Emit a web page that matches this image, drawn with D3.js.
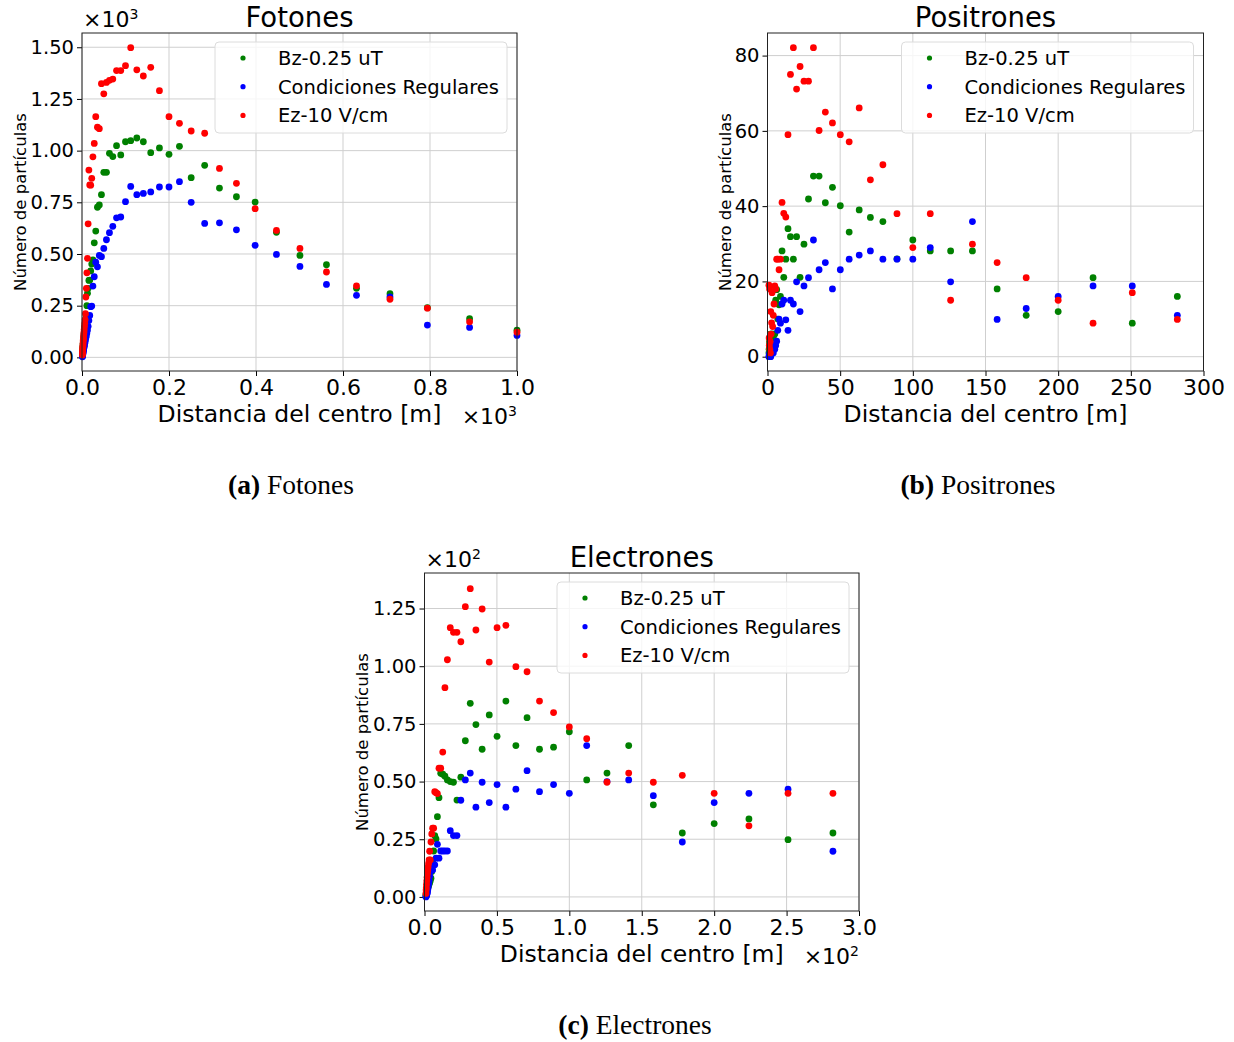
<!DOCTYPE html>
<html><head><meta charset="utf-8">
<script src="https://cdn.jsdelivr.net/npm/d3@7"></script>
<style>body{margin:0;background:#fff} svg{display:block}</style>
</head><body>
<svg id="chart" width="1234" height="1042"></svg>
<script>
// distances from the centre [m]
const distancias = [1.0, 1.12, 1.26, 1.41, 1.58, 1.78, 2.0, 2.24, 2.51, 2.82, 3.16, 3.55, 3.98, 4.47, 5.01, 5.62, 6.31, 7.08, 7.94, 8.91, 10.0, 11.2, 12.6, 14.1, 15.8, 17.8, 20.0, 22.4, 25.1, 28.2, 31.6, 35.5, 39.8, 44.7, 50.1, 56.2, 63.1, 70.8, 79.4, 89.1, 100, 112, 126, 141, 158, 178, 200, 224, 251, 282, 316, 355, 398, 447, 501, 562, 631, 708, 794, 891, 1000];

const seriesNames = ["Bz-0.25 uT", "Condiciones Regulares", "Ez-10 V/cm"];

// Fotones
const fotonesBz = [10, 15, 20, 26, 32, 38, 45, 52, 60, 68, 76, 85, 95, 105, 115, 126, 138, 150, 165, 180, 200, 250, 310, 334, 372, 374, 418, 451, 471, 554, 611, 726, 737, 787, 895, 895, 987, 971, 1024, 979, 1043, 1048, 1061, 1043, 990, 1013, 982, 1021, 869, 929, 819, 777, 751, 605, 493, 448, 334, 308, 240, 187, 131];
const fotonesReg = [3, 5, 8, 10, 13, 16, 19, 22, 26, 30, 34, 38, 43, 48, 54, 60, 68, 76, 85, 95, 105, 118, 132, 150, 178, 203, 245, 248, 345, 390, 460, 438, 493, 487, 527, 569, 603, 634, 675, 679, 753, 827, 787, 793, 800, 824, 824, 850, 750, 648, 651, 617, 542, 498, 440, 353, 300, 292, 156, 145, 106];
const fotonesEz = [12, 18, 25, 30, 38, 45, 52, 60, 70, 80, 88, 98, 110, 122, 135, 150, 165, 182, 211, 292, 334, 409, 479, 646, 906, 834, 833, 866, 970, 1035, 1164, 1113, 1106, 1324, 1275, 1330, 1340, 1346, 1387, 1387, 1411, 1498, 1391, 1361, 1403, 1290, 1164, 1132, 1095, 1084, 914, 842, 719, 614, 527, 413, 346, 281, 238, 172, 122];

// Positrones
const positronesBz = [1, 2, 3, 4, 5, 4, 6, 5, 6, 5, 6, 6, 5, 6, 6, 15, 17.8, 10, 13.8, 16, 28.1, 21.1, 25.9, 34, 31.9, 25.9, 31.9, 21.1, 29.9, 41.9, 48, 48, 40.9, 45, 40.1, 33.1, 39, 37, 35.9, 26, 31, 28.1, 28.1, 28.1, 18, 11, 12, 21, 8.9, 16];
const positronesReg = [0, 0, 0.5, 0, 1, 0.5, 1, 0, 2, 1, 1.5, 2, 1, 3, 2, 3, 4.1, 7, 10, 8.9, 14, 15, 9.8, 7, 15, 14, 19.9, 12, 18.8, 21, 31, 23.1, 25, 18, 23.1, 25.9, 27, 28.1, 25.9, 25.9, 25.9, 29, 19.9, 35.9, 9.9, 12.8, 16, 18.8, 18.8, 11];
const positronesEz = [19, 5, 3, 18, 2, 4, 1, 12, 6, 9, 17, 8, 11, 14, 18.8, 18, 25.9, 25.9, 23.1, 25.9, 41, 38.1, 37.1, 59, 75, 82.1, 71.1, 77.1, 73.2, 73.2, 82.1, 60.1, 65, 62.1, 59, 57.1, 66.1, 47, 51, 38, 29, 38, 15, 29.9, 25, 21, 15, 8.9, 17, 9.9];

// Electrones
const electronesBz = [0.5, 1, 1.5, 2.2, 2.5, 3, 3.6, 4, 4.4, 5, 5.5, 6.2, 7, 8.1, 11, 14.9, 19.9, 26.6, 25.1, 34.8, 43, 53.6, 53.2, 52.3, 50.7, 50, 49.7, 42, 51.9, 67.7, 83.9, 74.7, 64, 78.9, 69.6, 84.9, 65.6, 77.7, 64, 64.9, 71.6, 50.7, 53.7, 65.6, 39.9, 27.7, 31.8, 33.8, 24.8, 27.7];
const electronesReg = [0, 0.3, 0.5, 0.8, 1, 1.5, 2, 3, 4, 5.5, 7, 9, 11, 11.7, 12, 11.7, 13.9, 13.9, 16.8, 22.8, 16.8, 19.9, 19.9, 19.9, 19.9, 28.7, 26.6, 26.6, 41.9, 50.7, 53.7, 38.9, 49.7, 40.9, 48.7, 38.9, 46.7, 54.7, 45.6, 48.7, 44.9, 65.6, 50, 50.7, 43.9, 23.8, 40.9, 44.9, 46.7, 19.8];
const electronesEz = [1.5, 3, 4, 5.5, 7, 8.5, 10, 11.5, 13, 14.5, 16, 19.8, 16, 23.8, 27.3, 29.8, 29.8, 45.6, 45.2, 44.8, 55.8, 55.8, 62.8, 90.7, 102.8, 116.7, 114.7, 114.7, 110.6, 125.8, 133.6, 115.7, 124.8, 101.8, 116.7, 117.7, 99.8, 97.6, 84.9, 79.9, 73.7, 68.6, 49.7, 53.7, 49.7, 52.7, 44.9, 30.8, 44.9, 44.9];

// tick values / labels
const fotonesXTicks = [0, 200, 400, 600, 800, 1000];
const fotonesXLabels = ["0.0", "0.2", "0.4", "0.6", "0.8", "1.0"];
const fotonesYTicks = [0, 250, 500, 750, 1000, 1250, 1500];
const fotonesYLabels = ["0.00", "0.25", "0.50", "0.75", "1.00", "1.25", "1.50"];
const positronesXTicks = [0, 50, 100, 150, 200, 250, 300];
const positronesXLabels = ["0", "50", "100", "150", "200", "250", "300"];
const positronesYTicks = [0, 20, 40, 60, 80];
const positronesYLabels = ["0", "20", "40", "60", "80"];
const electronesXTicks = [0, 50, 100, 150, 200, 250, 300];
const electronesXLabels = ["0.0", "0.5", "1.0", "1.5", "2.0", "2.5", "3.0"];
const electronesYTicks = [0, 25, 50, 75, 100, 125];
const electronesYLabels = ["0.00", "0.25", "0.50", "0.75", "1.00", "1.25"];

const colors = ["#008000", "#0000ff", "#ff0000"];
const FONT = "DejaVu Sans, sans-serif";
const svg = d3.select("#chart");
svg.append("rect").attr("width", 1234).attr("height", 1042).attr("fill", "#fff");

function offsetText(g, x, y, anchor, exp) {
  const t = g.append("text").attr("x", x).attr("y", y).attr("text-anchor", anchor)
    .attr("font-family", FONT).attr("font-size", 22).attr("fill", "#000");
  t.append("tspan").text("×10");
  t.append("tspan").attr("dy", -8).attr("font-size", 14).text(exp);
}

function drawPanel(cfg) {
  const g = svg.append("g");
  const x = d3.scaleLinear().domain(cfg.xDomain).range([cfg.left, cfg.right]);
  const y = d3.scaleLinear().domain(cfg.yDomain).range([cfg.bottom, cfg.top]);

  // grid
  g.append("g").selectAll("line").data(cfg.xTicks).join("line")
    .attr("x1", d => x(d)).attr("x2", d => x(d)).attr("y1", cfg.top).attr("y2", cfg.bottom)
    .attr("stroke", "#cfcfcf").attr("stroke-width", 1);
  g.append("g").selectAll("line").data(cfg.yTicks).join("line")
    .attr("y1", d => y(d)).attr("y2", d => y(d)).attr("x1", cfg.left).attr("x2", cfg.right)
    .attr("stroke", "#cfcfcf").attr("stroke-width", 1);

  // axes
  const xAxis = d3.axisBottom(x).tickValues(cfg.xTicks).tickFormat((d, i) => cfg.xLabels[i]).tickSize(5).tickPadding(3);
  const gx = g.append("g").attr("transform", `translate(0,${cfg.bottom})`).call(xAxis);
  gx.select(".domain").remove();
  gx.selectAll("text").attr("font-family", FONT).attr("font-size", 22).attr("fill", "#000");
  gx.selectAll("line").attr("stroke", "#000");

  const yAxis = d3.axisLeft(y).tickValues(cfg.yTicks).tickFormat((d, i) => cfg.yLabels[i]).tickSize(5).tickPadding(3);
  const gy = g.append("g").attr("transform", `translate(${cfg.left},0)`).call(yAxis);
  gy.select(".domain").remove();
  gy.selectAll("text").attr("font-family", FONT).attr("font-size", 19.5).attr("fill", "#000");
  gy.selectAll("line").attr("stroke", "#000");

  // points: green, blue, red
  cfg.series.forEach((vals, si) => {
    g.append("g").selectAll("circle").data(vals).join("circle")
      .attr("cx", (d, i) => x(distancias[i]))
      .attr("cy", d => y(d))
      .attr("r", 3.4)
      .attr("fill", colors[si]);
  });

  // frame
  g.append("rect").attr("x", cfg.left).attr("y", cfg.top)
    .attr("width", cfg.right - cfg.left).attr("height", cfg.bottom - cfg.top)
    .attr("fill", "none").attr("stroke", "#222").attr("stroke-width", 1);

  // legend
  const lx = cfg.right - 302, ly = cfg.top + 9;
  g.append("rect").attr("x", lx).attr("y", ly).attr("width", 292).attr("height", 91)
    .attr("rx", 4).attr("fill", "#fff").attr("fill-opacity", 0.8)
    .attr("stroke", "#dcdcdc").attr("stroke-width", 1);
  seriesNames.forEach((name, i) => {
    const ry = ly + 16 + i * 28.7;
    g.append("circle").attr("cx", lx + 28).attr("cy", ry).attr("r", 2.6).attr("fill", colors[i]);
    g.append("text").attr("x", lx + 63).attr("y", ry + 7)
      .attr("font-family", FONT).attr("font-size", 19.5).attr("fill", "#000").text(name);
  });

  // title
  g.append("text").attr("x", (cfg.left + cfg.right) / 2).attr("y", cfg.top - 6)
    .attr("text-anchor", "middle").attr("font-family", FONT).attr("font-size", 27.5)
    .attr("fill", "#000").text(cfg.title);

  // x label
  g.append("text").attr("x", (cfg.left + cfg.right) / 2).attr("y", cfg.bottom + 51)
    .attr("text-anchor", "middle").attr("font-family", FONT).attr("font-size", 23.5)
    .attr("fill", "#000").text("Distancia del centro [m]");

  // y label
  g.append("text").attr("transform", `translate(${cfg.ylabelX},${(cfg.top + cfg.bottom) / 2}) rotate(-90)`)
    .attr("text-anchor", "middle").attr("font-family", FONT).attr("font-size", 16.5)
    .attr("fill", "#000").text("Número de partículas");

  if (cfg.yExp) offsetText(g, cfg.left + 1, cfg.top - 6, "start", cfg.yExp);
  if (cfg.xExp) offsetText(g, cfg.right, cfg.bottom + 53, "end", cfg.xExp);

  // caption
  const c = svg.append("text").attr("x", cfg.capX).attr("y", cfg.capY).attr("text-anchor", "middle")
    .attr("font-family", "Liberation Serif, serif").attr("font-size", 27.5).attr("fill", "#000");
  c.append("tspan").attr("font-weight", "bold").text(cfg.capTag);
  c.append("tspan").text(" " + cfg.title);
}

drawPanel({
  left: 82, right: 517, top: 33, bottom: 371,
  xDomain: [0, 1000], yDomain: [-66, 1569],
  xTicks: fotonesXTicks, xLabels: fotonesXLabels, yTicks: fotonesYTicks, yLabels: fotonesYLabels,
  series: [fotonesBz, fotonesReg, fotonesEz],
  title: "Fotones", ylabelX: 26, yExp: "3", xExp: "3",
  capX: 291, capY: 494, capTag: "(a)"
});
drawPanel({
  left: 767.5, right: 1203.5, top: 33, bottom: 371,
  xDomain: [0, 300], yDomain: [-3.8, 86.0],
  xTicks: positronesXTicks, xLabels: positronesXLabels, yTicks: positronesYTicks, yLabels: positronesYLabels,
  series: [positronesBz, positronesReg, positronesEz],
  title: "Positrones", ylabelX: 731, yExp: null, xExp: null,
  capX: 978, capY: 494, capTag: "(b)"
});
drawPanel({
  left: 424.5, right: 859, top: 573, bottom: 911,
  xDomain: [0, 300], yDomain: [-6.1, 140.4],
  xTicks: electronesXTicks, xLabels: electronesXLabels, yTicks: electronesYTicks, yLabels: electronesYLabels,
  series: [electronesBz, electronesReg, electronesEz],
  title: "Electrones", ylabelX: 368, yExp: "2", xExp: "2",
  capX: 635, capY: 1034, capTag: "(c)"
});
</script></body></html>
